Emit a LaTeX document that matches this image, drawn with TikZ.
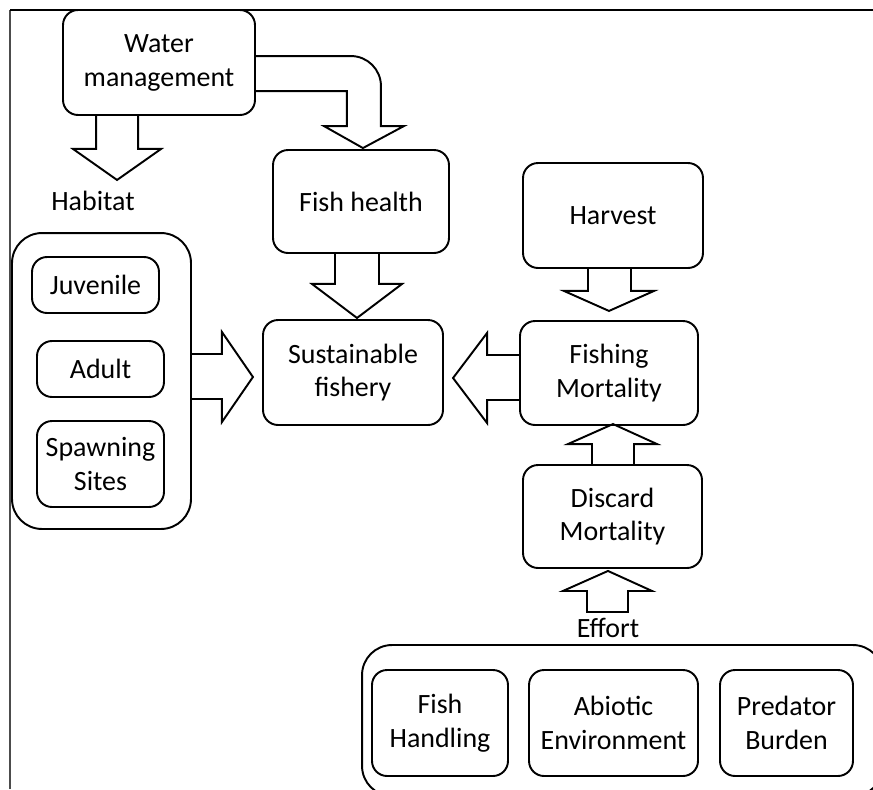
\documentclass[tikz,border=0pt]{standalone}
\usepackage{fontspec}
\setmainfont{Carlito}
\usetikzlibrary{calc}
\begin{document}
\begin{tikzpicture}[x=0.02cm, y=0.02cm,
		font=\fontsize{15.9}{19.3}\selectfont,
		box/.style={draw, line width=1.1pt, rounded corners=0.3cm, align=center, inner sep=0pt},
		group/.style={draw, line width=1.1pt, rounded corners=0.6cm},
		fat/.style={draw, line width=1.1pt, line join=miter}]

			\useasboundingbox (0,0) rectangle (873,-789);
			\draw[line width=1.2pt, black!70] (10,-789) -- (10,-10);
			\draw[line width=1.3pt] (10,-10) -- (873,-10);

			\node[box, minimum width=3.84cm, minimum height=2.1cm] (water) at (159,-62.5) {Water\\management};
			\node[box, minimum width=3.52cm, minimum height=2.06cm] (health) at (361,-201.5) {\raisebox{-0.1cm}{Fish health}};
			\node[box, minimum width=3.6cm, minimum height=2.1cm] (fishery) at (353,-372.5) {Sustainable\\fishery};
			\node[box, minimum width=3.6cm, minimum height=2.1cm] (harvest) at (613,-215.5) {Harvest};
			\node[box, minimum width=3.56cm, minimum height=2.08cm] (fishing) at (609,-373) {Fishing\\Mortality};
			\node[box, minimum width=3.58cm, minimum height=2.06cm] (discard) at (612.5,-516.5) {Discard\\Mortality};

			\node (habitat) at (93,-201) {Habitat};
			\node[group, minimum width=3.58cm, minimum height=5.92cm] (habitatbox) at (101.5,-381) {};
			\node[box, minimum width=2.54cm, minimum height=1.12cm] (juvenile) at (95.5,-285) {Juvenile};
			\node[box, minimum width=2.54cm, minimum height=1.12cm] (adult) at (100.5,-369) {Adult};
			\node[box, minimum width=2.54cm, minimum height=1.72cm] (spawning) at (100.5,-464) {Spawning\\Sites};

			\node (effort) at (608,-628) {Effort};
			\node[group, minimum width=10.42cm, minimum height=3.02cm] (effortbox) at (622.5,-720.5) {};
			\node[box, minimum width=2.72cm, minimum height=2.12cm] (handling) at (440,-723) {Fish\\Handling};
			\node[box, minimum width=3.38cm, minimum height=2.12cm] (abiotic) at (613.5,-723) {Abiotic\\Environment};
			\node[box, minimum width=2.66cm, minimum height=2.12cm] (predator) at (786.5,-723) {Predator\\Burden};

			\draw[fat] ($(water.south west)+(34,0)$) -- ++(0,-33) -- ++(-23,0) -- ++(44,-31) -- ++(44,31) -- ++(-23,0) -- ++(0,33);
			\draw[fat] ($(water.north east)+(0,-47)$) -- ++(95,0) arc[start angle=90, end angle=0, radius=30] -- ++(0,-40) -- ++(23,0) -- ++(-41,-22) -- ++(-39,22) -- ++(23,0) -- ++(0,35) -- ++(-91,0);
			\draw[fat] ($(health.south)+(-26,0)$) -- ++(0,-30) -- ++(-23,0) -- ++(45,-34) -- ++(45,34) -- ++(-23,0) -- ++(0,30);
			\draw[fat] ($(habitatbox.east)+(0,27)$) -- ++(30,0) -- ++(0,22) -- ++(31,-45) -- ++(-31,-45) -- ++(0,23) -- ++(-30,0);
			\draw[fat] ($(harvest.south)+(-25,0)$) -- ++(0,-22) -- ++(-24,0) -- ++(45,-20) -- ++(45,20) -- ++(-23,0) -- ++(0,22);
			\draw[fat] ($(fishing.west)+(0,18)$) -- ++(-32,0) -- ++(0,22) -- ++(-34,-45) -- ++(34,-45) -- ++(0,23) -- ++(32,0);
			\draw[fat] ($(discard.north)+(-20.5,0)$) -- ++(0,20) -- ++(-24,0) -- ++(45,20) -- ++(44,-20) -- ++(-23,0) -- ++(0,-20);
			\draw[fat] ($(discard.south)+(-25.5,-43)$) -- ++(0,21) -- ++(-24,0) -- ++(45,20) -- ++(44,-20) -- ++(-24,0) -- ++(0,-21) -- cycle;
		\end{tikzpicture}
\end{document}
